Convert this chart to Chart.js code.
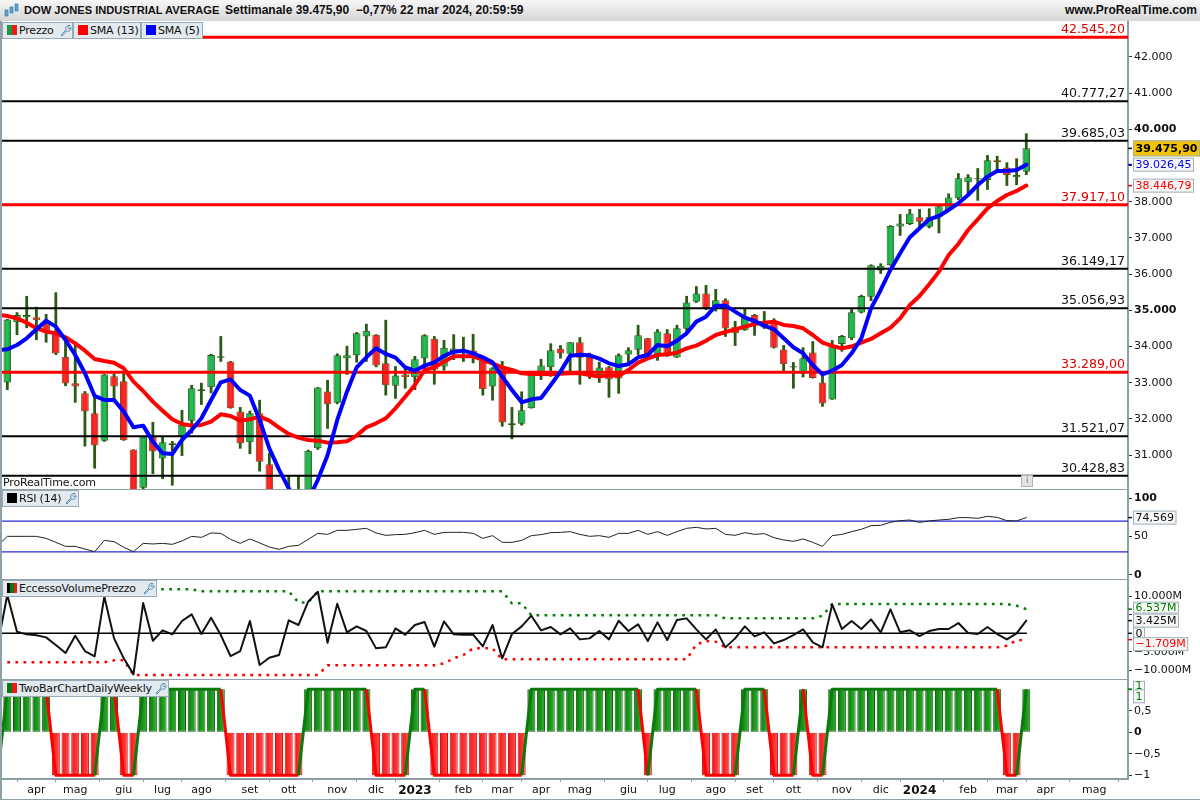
<!DOCTYPE html>
<html><head><meta charset="utf-8">
<script src="https://cdn.jsdelivr.net/npm/chart.js@4"></script>
<style>
html,body{margin:0;padding:0;background:#fff;width:1200px;height:800px;overflow:hidden;font-family:"DejaVu Sans",sans-serif;color:#111}
canvas{position:absolute;left:0}
#title{position:absolute;left:0;top:0;width:1200px;height:21px;background:linear-gradient(#f6f6f6,#d6d6d6);font:bold 12px "Liberation Sans",sans-serif;line-height:20px;white-space:nowrap}
#title .t{position:absolute;left:24px;top:0;font-size:11.15px}
#title .t2{position:absolute;left:225px;top:0}
#title .r{position:absolute;right:3px;top:0}
#title svg{position:absolute;left:4px;top:3px}
.sep{position:absolute;background:#8fa0a8}
.lg{position:absolute;height:17px;box-sizing:border-box;background:#e2e9ef;border:1px solid #9aaab4;font-size:11px;line-height:15px;white-space:nowrap;letter-spacing:-.2px}
.lg i{position:absolute;left:4px;top:2px;width:10px;height:10px;display:block}
.lg span{position:absolute;left:16px;top:0}
.lg svg{position:absolute;top:1px}
#prt{position:absolute;left:3px;top:476px;font-size:11px;line-height:13px;letter-spacing:-.15px}
#inf{position:absolute;left:1021px;top:475px;width:10px;height:10px;background:#e4e4e4;border:1px solid #b4b4b4;font:8px/10px "DejaVu Sans";text-align:center;color:#666}
</style></head><body>
<canvas id="cPrice" width="1200" height="469" style="top:20px"></canvas>
<canvas id="cRsi" width="1200" height="90" style="top:489px"></canvas>
<canvas id="cVol" width="1200" height="100" style="top:579px"></canvas>
<canvas id="cTwo" width="1200" height="121" style="top:679px"></canvas>

<div class="sep" style="left:0;top:20px;width:2px;height:780px"></div>
<div class="sep" style="left:0;top:489px;width:1128px;height:1px"></div>
<div class="sep" style="left:0;top:579px;width:1128px;height:1px"></div>
<div class="sep" style="left:0;top:679px;width:1128px;height:1px"></div>
<div class="sep" style="left:0;top:799px;width:1200px;height:1px"></div>

<div id="title">
<svg width="16" height="16" viewBox="0 0 16 16"><g fill="#5ba6d8" stroke="#2f77a8" stroke-width=".6"><rect x="1" y="7" width="3" height="6"/><rect x="6" y="4" width="3" height="6"/><rect x="11" y="1" width="3" height="7"/></g></svg>
<span class="t">DOW JONES INDUSTRIAL AVERAGE</span><span class="t2">Settimanale 39.475,90 &nbsp;−0,77% 22 mar 2024, 20:59:59</span>
<span class="r">www.ProRealTime.com</span></div>

<div class="lg" style="left:2px;top:22px;width:71px"><i style="background:linear-gradient(90deg,#1a9a3c 50%,#f01818 50%)"></i><span>Prezzo</span>
<svg style="left:56px" width="13" height="13" viewBox="0 0 13 13"><path d="M2 11 L7 6 C6 3 8 1 11 1.500 L9 3.500 L10 5 L12 3.500 C12.500 6 10 8 7.500 7 L3 12 Z" fill="none" stroke="#5b8db0"/></svg></div>
<div class="lg" style="left:73px;top:22px;width:68px"><i style="background:#f00"></i><span>SMA (13)</span></div>
<div class="lg" style="left:141px;top:22px;width:62px"><i style="background:#00f"></i><span>SMA (5)</span></div>

<div id="prt">ProRealTime.com</div><div id="inf">i</div>

<div class="lg" style="left:2px;top:490px;width:77px"><i style="background:#000"></i><span>RSI (14)</span>
<svg style="left:61px" width="13" height="13" viewBox="0 0 13 13"><path d="M2 11 L7 6 C6 3 8 1 11 1.500 L9 3.500 L10 5 L12 3.500 C12.500 6 10 8 7.500 7 L3 12 Z" fill="none" stroke="#5b8db0"/></svg></div>
<div class="lg" style="left:2px;top:580px;width:155px"><i style="background:linear-gradient(90deg,#000 33%,#0a7a0a 33%,#0a7a0a 66%,#f01818 66%)"></i><span>EccessoVolumePrezzo</span>
<svg style="left:139px" width="13" height="13" viewBox="0 0 13 13"><path d="M2 11 L7 6 C6 3 8 1 11 1.500 L9 3.500 L10 5 L12 3.500 C12.500 6 10 8 7.500 7 L3 12 Z" fill="none" stroke="#5b8db0"/></svg></div>
<div class="lg" style="left:2px;top:680px;width:167px"><i style="background:linear-gradient(90deg,#0a7a0a 50%,#f01818 50%)"></i><span>TwoBarChartDailyWeekly</span>
<svg style="left:151px" width="13" height="13" viewBox="0 0 13 13"><path d="M2 11 L7 6 C6 3 8 1 11 1.500 L9 3.500 L10 5 L12 3.500 C12.500 6 10 8 7.500 7 L3 12 Z" fill="none" stroke="#5b8db0"/></svg></div>

<script>
// ---------- data ----------
const opens=[33010,34670,34810,34810,34640,34410,33720,32990,32710,32160,
31400,33180,33040,31160,30100,31510,30910,31280,31510,31950,
32770,32880,33690,33590,32210,31360,32160,30750,29700,29100,
29300,29700,31190,32760,32450,33680,33760,34280,34330,33540,
32920,33230,33150,33670,34220,33450,33880,33830,33890,33610,
32900,33400,31830,31870,32300,33310,33430,33940,33800,34120,
33720,33220,33430,33120,33780,33910,34230,33770,34370,33700,
34490,35240,35470,35100,35280,34550,34450,34870,34530,34690,
33920,33420,33260,33840,33010,32540,34070,34230,34940,35380,
36100,36250,37320,37390,37570,37310,37590,37770,38100,38540,
38620,38600,39150,38950,38680,38830];
const highs=[34760,34950,35400,35100,34900,35500,34230,34140,32770,32660,
33240,33260,33260,31160,31510,31920,31510,31390,32250,32940,
33000,33800,34290,33600,32330,32230,32530,31060,29900,30430,
30430,31150,32880,33080,33810,34020,34400,34630,34340,34740,
33460,33430,33740,34340,34290,34180,34340,34270,34350,33700,
33430,33600,32330,32760,33280,33660,34090,34040,34120,34260,
33830,33580,33460,33810,33980,34600,34240,34480,34480,34600,
35400,35670,35700,35590,35330,34710,35060,34900,34980,34780,
34040,33570,33980,34150,33260,34180,34320,35040,35430,36270,
36300,37350,37660,37800,37800,37820,37890,38230,38790,38760,
38930,39290,39270,39090,39200,39890];
const lows=[32800,34320,34510,34180,34110,33770,32910,32450,31240,30630,
31370,32530,31400,29900,29950,30480,30340,30160,30980,31600,
32390,32710,33580,32290,31180,31030,30550,29600,28900,28700,
28700,29500,31150,31730,32410,33220,33560,33580,33430,32650,
32560,32840,32800,33400,32950,33340,33630,33580,33540,32650,
32510,31790,31440,31820,32290,33080,33170,33670,33310,32950,
33110,33000,32590,32700,33490,33770,33740,33610,33720,33690,
34410,35210,35010,34970,34270,34020,34440,34300,34490,33950,
33310,32840,33150,33120,32340,32530,33860,34180,34920,35260,
36010,36240,37060,37360,37300,37270,37130,37760,38050,38190,
38030,38330,38830,38440,38460,38740];
const closes=[34750,34870,34870,34730,34410,33810,32980,32900,32210,31270,
33230,32900,31410,29950,31510,31110,31360,31330,31840,32850,
32820,33770,33730,32300,31330,32160,30820,29700,29000,29300,
29630,31120,32870,32410,33760,33760,34370,34440,33480,32930,
33200,33150,33650,34310,33370,33970,33950,33910,33800,32820,
33400,31900,31880,32240,33220,33480,33900,33810,34120,33690,
33220,33420,33100,33760,33900,34310,33770,34420,33740,34510,
35220,35470,35060,35280,34500,34370,34830,34600,34690,33970,
33510,33460,33680,33130,32430,34040,34290,34950,35400,36250,
36230,37330,37400,37680,37450,37590,37880,38120,38650,38680,
38650,39150,39090,38740,38740,39475.90];
const sma13=[34846,34781,34661,34505,34413,34367,34256,34090,33888,33658,
33602,33556,33400,33032,32774,32479,32230,31991,31862,31816,
31835,31927,32129,32083,31954,31991,32065,31954,31761,31586,
31485,31420,31402,31346,31356,31383,31540,31770,31880,32019,
32295,32617,32939,33354,33427,33584,33731,33731,33731,33630,
33538,33427,33354,33262,33243,33243,33234,33253,33262,33262,
33216,33170,33215,33188,33354,33556,33676,33768,33786,33832,
33952,34026,34164,34320,34403,34477,34551,34624,34661,34689,
34597,34569,34505,34320,34109,34017,33952,34000,34109,34210,
34367,34520,34781,35150,35398,35720,36070,36530,36835,37221,
37516,37820,38022,38188,38299,38446.79];
const sma5=[33925,34044,34229,34477,34717,34551,34183,33768,33262,32636,
32525,32525,32203,31770,31816,31374,31052,31033,31420,31696,
32019,32525,33013,33096,32801,32645,31973,31190,30600,30085,
29650,29760,30320,31000,31973,32755,33427,33704,33952,33796,
33695,33427,33335,33474,33566,33741,33860,33888,33814,33704,
33566,33170,32801,32461,32544,32580,32939,33308,33750,33777,
33759,33667,33538,33464,33510,33704,33768,34044,34007,34164,
34366,34689,34827,35131,35131,34965,34799,34707,34578,34477,
34228,33980,33814,33492,33234,33335,33492,33814,34228,35057,
35564,36116,36577,37019,37267,37516,37608,37774,37958,38188,
38464,38695,38851,38851,38879,39026.45];
const sma13Before=34880, sma5Before=33900;
const levelsBlack=[40777.27,39685.03,36149.17,35056.93,31521.07,30428.83];
const levelsRed=[42545.20,37917.10,33289.00];
const rsi=[50.2,50.2,50.2,50.2,47.6,42.4,37.2,37.2,33.8,30.3,
45.0,43.3,35.9,30.3,41.1,40.3,41.1,39.8,44.2,50.2,
48.9,54.6,54.1,46.3,41.1,46.8,41.6,36.4,33.3,37.2,
38.5,46.3,54.1,52.8,58.0,58.0,59.3,60.6,54.6,51.5,
52.4,52.8,55.0,58.0,52.8,55.4,55.4,55.4,54.1,47.6,
51.1,42.4,42.4,45.0,51.1,52.4,55.0,55.4,56.3,52.8,
50.2,51.1,48.9,54.1,54.1,58.0,52.8,56.3,51.5,56.3,
60.6,61.9,59.8,60.6,52.8,51.5,55.0,52.8,53.7,48.5,
45.5,43.7,46.8,42.4,37.2,51.1,52.8,56.3,59.3,64.1,
64.5,68.4,70.6,71.4,68.4,70.2,71.4,72.3,74.5,74.5,
73.6,76.2,74.9,70.6,70.2,74.569];
const rsiBefore=38, rsiLevels=[70,30];
const volume=[10.35,0.44,-0.28,-0.55,-1.10,-3.17,-5.33,-0.65,-4.79,-6.23,
9.90,-1.37,-6.77,-11.10,8.19,-2.00,0.80,-0.28,3.32,5.12,
-0.19,4.22,-0.47,-6.14,-4.79,3.32,-8.57,-6.59,-5.87,3.50,
2.24,8.55,11.25,-2.54,8.00,0.26,1.88,0.62,-4.07,-3.80,
1.34,-0.37,2.24,3.05,-3.62,3.23,-0.28,-0.37,-0.37,-3.53,
2.24,-6.77,-0.19,1.88,4.76,0.80,1.70,-0.28,1.34,-1.64,
-1.37,0.62,-1.64,3.41,0.62,2.42,-2.09,2.96,-1.82,3.59,
4.04,1.07,-1.64,1.07,-3.80,-1.37,1.88,-0.83,0.26,-2.72,
-1.82,-0.47,1.07,-2.45,-3.80,7.82,1.16,3.32,1.16,3.77,
0.26,6.47,0.26,0.80,-0.74,0.62,1.16,1.16,2.78,0.08,
-0.19,1.70,-0.19,-1.64,-0.01,3.425];
const volBefore=-3.2;
const volUpper=[11.88,11.88,11.88,11.88,11.88,11.88,11.88,11.88,11.88,11.88,
11.88,11.88,11.88,11.88,11.88,11.88,11.88,11.88,11.88,11.88,
11.34,11.34,11.34,11.34,11.34,11.34,11.34,11.34,11.34,11.34,
8.36,8.36,11.34,11.34,11.34,11.34,11.34,11.34,11.34,11.34,
11.34,11.34,11.34,11.34,11.34,11.34,11.34,11.34,11.34,11.34,
11.34,11.34,8.10,8.10,4.85,4.85,4.85,4.85,4.85,4.85,
4.85,4.85,4.85,4.85,4.85,4.85,4.85,4.85,4.85,4.85,
4.85,4.85,4.85,4.85,4.04,4.04,4.04,4.04,4.04,4.04,
4.04,4.04,4.04,4.04,4.76,7.92,7.92,7.92,7.92,7.92,
7.92,7.92,7.92,7.92,7.92,7.92,7.92,7.92,7.92,7.92,
7.92,7.92,7.92,7.92,7.46,6.537];
const volLower=[-7.85,-7.85,-7.85,-7.85,-7.85,-7.85,-7.85,-7.85,-7.85,-7.85,
-7.85,-7.31,-7.31,-11.28,-11.28,-11.28,-11.28,-11.28,-11.28,-11.28,
-11.28,-11.28,-11.28,-11.28,-11.28,-11.28,-11.28,-11.28,-11.28,-11.28,
-11.28,-11.28,-11.28,-8.66,-8.66,-8.66,-8.66,-8.66,-8.66,-8.66,
-8.66,-8.66,-8.66,-8.66,-8.66,-8.12,-6.77,-5.87,-4.07,-4.07,
-4.07,-7.04,-7.04,-7.04,-7.04,-7.04,-7.04,-7.04,-7.04,-7.04,
-7.04,-7.04,-7.04,-7.04,-7.04,-7.04,-7.04,-7.04,-7.04,-7.04,
-7.04,-2.99,-2.09,-2.27,-3.80,-3.80,-3.80,-3.80,-3.80,-3.80,
-3.80,-3.80,-3.80,-3.80,-3.80,-3.80,-3.80,-3.80,-3.80,-3.80,
-3.80,-3.80,-3.80,-3.80,-3.80,-3.80,-3.80,-3.80,-3.80,-3.80,
-3.80,-3.80,-3.80,-3.35,-1.90,-1.709];
const twoBar=[1,1,1,1,1,-1,-1,-1,-1,-1,
1,1,-1,-1,1,1,1,1,1,1,
1,1,1,-1,-1,-1,-1,-1,-1,-1,
-1,1,1,1,1,1,1,1,-1,-1,
-1,-1,1,1,-1,-1,-1,-1,-1,-1,
-1,-1,-1,-1,1,1,1,1,1,1,
1,1,1,1,1,1,-1,1,1,1,
1,1,-1,-1,-1,-1,1,1,1,-1,
-1,-1,1,-1,-1,1,1,1,1,1,
1,1,1,1,1,1,1,1,1,1,
1,1,1,-1,-1,1];
const twoBefore=-1;
const priceTicks=[42000,41000,40000,39000,38000,37000,36000,35000,34000,33000,32000,31000];
const priceBoldTicks=[40000,35000];
const rsiTicks=[100,50,0];
const volTicks=[10,5,0,-5,-10];
const twoTicks=[1,0.5,0,-0.5,-1];
const monthIdx=[3,7,12,16,20,25,29,34,38,42,47,51,55,59,64,68,73,77,81,86,90,94,99,103,107,112];
const monthNames=['apr','mag','giu','lug','ago','set','ott','nov','dic','2023','feb','mar','apr','mag','giu','lug','ago','set','ott','nov','dic','2024','feb','mar','apr','mag'];

// ---------- helpers ----------
Chart.defaults.font.family='"DejaVu Sans",sans-serif';
Chart.defaults.font.size=11;
Chart.defaults.color='#111';
const xMin=-0.546, xMax=115.48, AXIS='#8c9ea6', OLIVE='#2a5a14';
const fmt=(v,d)=>{const s=Math.abs(v).toFixed(d).split('.');
  return (v<0?'−':'')+s[0].replace(/\B(?=(\d{3})+$)/g,'.')+(d?','+s[1]:'');};
const fmtM=v=>v===0?'0':fmt(v*1000,0)+'M';
const pts=arr=>arr.map((y,x)=>({x,y}));
const ptsB=(before,arr)=>[{x:-1,y:before},...pts(arr)];
const flat=v=>[{x:xMin-1,y:v},{x:xMax+1,y:v}];
const line=(data,color,width,order,extra)=>Object.assign({type:'line',data,borderColor:color,borderWidth:width,order,pointRadius:0,tension:0,fill:false,borderCapStyle:'round',borderJoinStyle:'round'},extra||{});
const grad=(chart,i,stops)=>{
  const x=chart.scales.x?chart.scales.x.getPixelForValue(i):NaN;
  if(!Number.isFinite(x)) return stops[0];
  const g=chart.ctx.createLinearGradient(x-4,0,x+4,0);
  stops.forEach((c,k)=>g.addColorStop(k/(stops.length-1),c));return g;};
const noPad=s=>{s.paddingTop=s.paddingBottom=s.paddingLeft=s.paddingRight=0;};

const tagPlugin={id:'tags',afterDraw(chart,args,opts){
  const c=chart.ctx,a=chart.chartArea,s=chart.scales.y;
  (opts.list||[]).forEach(t=>{
    const y=s.getPixelForValue(t.value),cy=y+(t.dy||0);
    c.save();
    c.strokeStyle=t.color;c.lineWidth=1.5;c.beginPath();c.moveTo(a.right,y);c.lineTo(a.right+4,y);c.stroke();
    c.font=(t.bold?'bold ':'')+'11px "DejaVu Sans"';
    const w=c.measureText(t.text).width+5,h=t.h||14;
    c.fillStyle=t.bg||'#f6f6f6';c.fillRect(1133,cy-h/2,w,h);
    c.strokeStyle='#9fb0ba';c.lineWidth=1;c.strokeRect(1133.5,cy-h/2+.5,w-1,h-1);
    c.fillStyle=t.color;c.textBaseline='middle';c.textAlign='left';c.fillText(t.text,1135.5,cy+.5);
    c.restore();});
}};
const levelLabels={id:'levelLabels',afterDatasetsDraw(chart){
  const c=chart.ctx,a=chart.chartArea,s=chart.scales.y;
  c.save();c.font='12.6px "DejaVu Sans"';c.textAlign='right';c.textBaseline='alphabetic';
  levelsBlack.forEach(v=>{c.fillStyle='#111';c.fillText(fmt(v,2),a.right-3,s.getPixelForValue(v)-4);});
  levelsRed.forEach(v=>{c.fillStyle='#e00000';c.fillText(fmt(v,2),a.right-3,s.getPixelForValue(v)-4);});
  c.restore();
}};
Chart.register(tagPlugin);

function yAxis(min,max,values,label,bold){return{
  position:'right',min,max,
  afterFit(s){s.width=72;noPad(s);},
  afterBuildTicks(s){s.ticks=values.map(v=>({value:v}));},
  border:{display:true,color:AXIS,width:2},
  grid:{drawOnChartArea:false,drawTicks:true,tickLength:4,tickColor:'#333',tickWidth:1},
  ticks:{padding:2,autoSkip:false,includeBounds:false,color:'#111',
    callback:v=>label(v),
    font:c=>(bold(c.tick&&c.tick.value)?{weight:'bold',size:11}:{weight:'normal',size:11})}
};}
const xHidden={type:'linear',min:xMin,max:xMax,offset:false,display:false,grid:{display:false}};
function build(id,type,datasets,y,x,plugins,tags){
  return new Chart(document.getElementById(id),{type,data:{datasets},
    plugins:plugins||[],
    options:{responsive:false,animation:false,devicePixelRatio:1,
      layout:{padding:{left:2,right:0,top:0,bottom:0}},
      events:[],
      scales:{x:x||xHidden,y},
      plugins:{legend:{display:false},tooltip:{enabled:false},tags:{list:tags||[]}}}});
}

// ---------- price panel ----------
const n=closes.length;
const upStops=['#109636','#26c258','#109636'], dnStops=['#f01010','#ff2c2c','#f01010'];
build('cPrice','bar',[
  {type:'bar',data:highs.map((h,i)=>({x:i,y:[lows[i],h]})),backgroundColor:OLIVE,barThickness:2.8,grouped:false,order:9,inflateAmount:0},
  {type:'bar',data:closes.map((cl,i)=>({x:i,y:[Math.min(opens[i],cl),Math.max(opens[i],cl)]})),
   backgroundColor:c=>c.dataIndex===undefined?'#1a9a3c':grad(c.chart,c.dataIndex,closes[c.dataIndex]>=opens[c.dataIndex]?upStops:dnStops),
   borderColor:c=>c.dataIndex===undefined?OLIVE:(closes[c.dataIndex]>=opens[c.dataIndex]?OLIVE:'#7a4a14'),
   borderWidth:1,borderSkipped:false,barThickness:7.6,grouped:false,order:8,inflateAmount:0},
  ...levelsBlack.map(v=>line(flat(v),'#000',2,5)),
  ...levelsRed.map(v=>line(flat(v),'#ff0000',3,4)),
  line(ptsB(sma13Before,sma13),'#ff0000',4,2),
  line(ptsB(sma5Before,sma5),'#0000ff',4,1),
],yAxis(30066,43022,priceTicks,v=>fmt(v,0),v=>priceBoldTicks.includes(v)),null,[levelLabels],[
  {value:sma13[n-1],text:fmt(sma13[n-1],2),color:'#f00000',bg:'#f6f6f6'},
  {value:sma5[n-1],text:fmt(sma5[n-1],2),color:'#0000e0',bg:'#f6f6f6'},
  {value:closes[n-1],text:fmt(closes[n-1],2),color:'#000',bg:'#f5c400',bold:true,h:16},
]);

// ---------- RSI panel ----------
build('cRsi','line',[
  ...rsiLevels.map(v=>line(flat(v),'#2a2ad0',1.3,3)),
  line(ptsB(rsiBefore,rsi),'#222',1,1),
],yAxis(-5.2,111.7,rsiTicks,v=>String(v),v=>v===100||v===0),null,[],[
  {value:rsi[n-1],text:fmt(rsi[n-1],3),color:'#111'},
]);

// ---------- volume panel ----------
build('cVol','line',[
  line([{x:xMin-1,y:0},{x:n-1,y:0}],'#000',1.5,4),
  line(pts(volUpper),'#008000',2.5,3,{borderDash:[2.7,5.4],borderCapStyle:'butt'}),
  line(pts(volLower),'#ff0000',2.5,2,{borderDash:[2.7,5.4],borderCapStyle:'butt'}),
  line(ptsB(volBefore,volume),'#111',2,1),
],yAxis(-12.35,14.68,volTicks,fmtM,()=>false),null,[],[
  {value:0,text:'0',color:'#111',h:12},
  {value:volUpper[n-1],text:fmtM(volUpper[n-1]),color:'#008000',dy:-1.5,h:12},
  {value:volLower[n-1],text:fmtM(volLower[n-1]),color:'#ff0000',dy:4.5},
  {value:volume[n-1],text:fmtM(volume[n-1]),color:'#111'},
]);

// ---------- two-bar panel ----------
const xBottom={type:'linear',min:xMin,max:xMax,offset:false,position:'bottom',
  afterFit(s){s.height=21;noPad(s);},
  afterBuildTicks(s){s.ticks=monthIdx.map(v=>({value:v}));},
  border:{display:true,color:AXIS,width:2},
  grid:{drawOnChartArea:false,drawTicks:true,tickLength:3,tickColor:AXIS},
  ticks:{autoSkip:false,maxRotation:0,minRotation:0,padding:2,includeBounds:false,color:'#111',
    callback:v=>monthNames[monthIdx.indexOf(v)],
    font:c=>{const t=c.tick&&monthNames[monthIdx.indexOf(c.tick.value)];
      return (t==='2023'||t==='2024')?{weight:'bold',size:12}:{weight:'normal',size:11};}}
};
build('cTwo','bar',[
  {type:'bar',data:pts(twoBar),
   backgroundColor:c=>c.dataIndex===undefined?'#1a8a1a':grad(c.chart,c.dataIndex,twoBar[c.dataIndex]>0?['#0c780c','#30b430']:['#f41010','#ff5050']),
   borderColor:c=>c.dataIndex===undefined?'#0e5a0e':(twoBar[c.dataIndex]>0?'#0e5a0e':'#cc1010'),
   borderWidth:1,borderSkipped:false,barThickness:8,grouped:false,order:3,inflateAmount:0},
  line(ptsB(twoBefore,twoBar),'#0a7a0a',3,1,{segment:{borderColor:s=>s.p1.parsed.y<0?'#ff0000':'#0a7a0a'},borderCapStyle:'butt'}),
],yAxis(-1.086,1.24,twoTicks,v=>v===0?'0':fmt(v,Number.isInteger(v)?0:1),v=>v===0),xBottom,[],[
  {value:twoBar[n-1],text:'1',color:'#008000',dy:-3.5,h:10},
  {value:twoBar[n-1],text:'1',color:'#008000',dy:7,h:14},
]);
</script>
</body></html>
